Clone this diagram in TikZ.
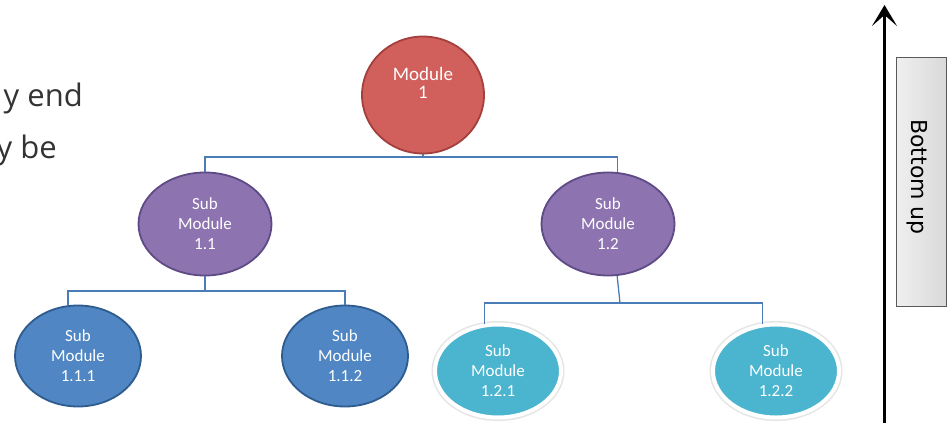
\documentclass[tikz,border=0pt]{standalone}
\usepackage{fontspec}
\setmainfont{Carlito}
\newfontfamily\bodyfont{Open Sans}
\newfontfamily\tagfont{DejaVu Sans}
\usetikzlibrary{shapes.geometric,arrows.meta}

\definecolor{modfill}{HTML}{D1605C}
\definecolor{modline}{HTML}{A3403D}
\definecolor{subfill}{HTML}{8D74B1}
\definecolor{subline}{HTML}{5E4A85}
\definecolor{leaffill}{HTML}{4F86C3}
\definecolor{leafline}{HTML}{2E5C8E}
\definecolor{tealfill}{HTML}{4BB4CE}
\definecolor{connblue}{HTML}{4A7DB8}
\definecolor{bodygray}{HTML}{333333}
\definecolor{tagline}{HTML}{5A5A5A}

\begin{document}
\begin{tikzpicture}[x=1pt,y=-1pt,
  unit/.style={ellipse, inner sep=0pt, align=center, text=white,
    font=\fontsize{17}{20}\selectfont},
  topunit/.style={unit, draw=modline, fill=modfill, line width=1.8pt,
    minimum width=122pt, minimum height=117pt},
  midunit/.style={unit, draw=subline, fill=subfill, line width=1.8pt,
    minimum width=133pt, minimum height=103pt},
  lowunit/.style={unit, draw=leafline, fill=leaffill, line width=1.8pt,
    minimum width=126pt, minimum height=101pt},
  tealunit/.style={unit, fill=tealfill, draw=white, line width=4pt,
    preaction={draw=black!10, line width=7pt},
    minimum width=126pt, minimum height=93pt},
  conn/.style={draw=connblue, line width=1.3pt},
  bodytext/.style={anchor=base east, inner sep=0pt, text=bodygray,
    font=\bodyfont\fontsize{31}{31}\selectfont}
]
\clip (0,0) rectangle (949,426);
\fill[white] (0,0) rectangle (949,426);

% partial body text at the left edge
\node[bodytext] (la) at (83,106) {y end};
\node[bodytext] (lb) at (57,158) {y be};

% module tree
\node[topunit] (m1) at (423,95) {};
\node[inner sep=0pt, align=center, text=white,
  font=\fontsize{19}{18}\selectfont] (m1t) at (423,83) {Module\\1};

\node[midunit] (s11) at (205,224) {Sub\\Module\\1.1};
\node[midunit] (s12) at (608,224) {Sub\\Module\\1.2};

\node[lowunit] (s111) at (78,356) {Sub\\Module\\1.1.1};
\node[lowunit] (s112) at (345,356) {Sub\\Module\\1.1.2};

\node[tealunit] (s121) at (498,371) {Sub\\Module\\1.2.1};
\node[tealunit] (s122) at (776,371) {Sub\\Module\\1.2.2};

% connectors
\coordinate (b1) at (423,157);
\coordinate (b2) at (205,291);
\coordinate (b3) at (620,303);
\draw[conn] (m1.south) -- (b1);
\draw[conn] (s11.north) |- (b1) -| (s12.80);
\draw[conn] (s11.south) -- (b2);
\draw[conn] (s111.101) |- (b2) -| (s112.north);
\draw[conn] (s12.280) -- (b3);
\draw[conn] (s121.106) |- (b3) -| (s122.106);

% direction arrow and its tag
\coordinate (ab) at (884.5,423);
\coordinate (at) at (884.5,5);
\draw[line width=3.5pt,
  -{Stealth[length=21pt,width=25pt,inset=11pt]}] (ab) -- (at);

\node[draw=tagline, line width=1pt, left color=gray!12, right color=gray!30,
  minimum width=50pt, minimum height=249pt, inner sep=0pt] (tag) at (921,181.5) {};
\node[rotate=-90, anchor=base, inner sep=0pt,
  font=\tagfont\fontsize{22}{22}\selectfont] (tagt) at (911,177) {Bottom up};
\end{tikzpicture}
\end{document}
